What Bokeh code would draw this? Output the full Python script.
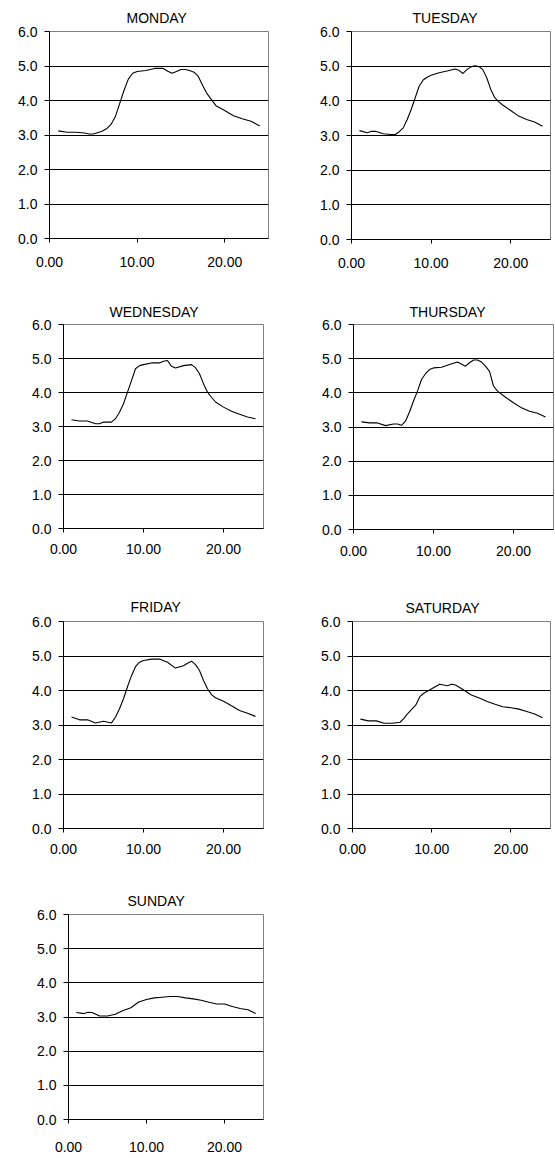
from bokeh.plotting import figure
from bokeh.layouts import column, row
from bokeh.models import FixedTicker, NumeralTickFormatter, Range1d
from bokeh.embed import file_html
from bokeh.resources import INLINE

FONT = "Liberation Sans"

# ---------------- data (hour of day vs value) ----------------
days = ["MONDAY", "TUESDAY", "WEDNESDAY", "THURSDAY", "FRIDAY", "SATURDAY", "SUNDAY"]

mon_x = [1, 2, 3, 4, 4.5, 5, 6, 6.5, 7, 7.5, 8, 8.5, 9, 9.5, 10, 11, 12, 13, 13.5, 14, 14.5, 15, 15.5, 16, 16.5, 17, 17.5, 18, 19, 20, 21, 22, 23, 24]
mon_y = [3.12, 3.08, 3.08, 3.06, 3.03, 3.03, 3.11, 3.18, 3.30, 3.52, 3.90, 4.29, 4.62, 4.79, 4.84, 4.87, 4.93, 4.93, 4.85, 4.79, 4.84, 4.90, 4.90, 4.87, 4.82, 4.69, 4.43, 4.19, 3.85, 3.71, 3.56, 3.47, 3.40, 3.26]

tue_x = [1, 2, 2.5, 3, 4, 5, 5.5, 6, 6.5, 7, 7.5, 8, 8.5, 9, 9.5, 10, 11, 12, 13, 13.5, 14, 14.5, 15, 15.5, 16, 16.5, 17, 17.5, 18, 18.5, 19, 20, 21, 22, 23, 24]
tue_y = [3.14, 3.08, 3.12, 3.12, 3.05, 3.03, 3.03, 3.11, 3.22, 3.46, 3.75, 4.09, 4.42, 4.60, 4.68, 4.74, 4.81, 4.86, 4.92, 4.88, 4.79, 4.90, 4.98, 5.01, 4.99, 4.90, 4.66, 4.33, 4.09, 3.97, 3.88, 3.72, 3.56, 3.46, 3.39, 3.27]

wed_x = [1, 2, 3, 4, 4.5, 5, 6, 6.5, 7, 7.5, 8, 8.5, 9, 9.5, 10, 11, 12, 12.5, 13, 13.5, 14, 15, 16, 16.5, 17, 17.5, 18, 18.5, 19, 20, 21, 22, 23, 24]
wed_y = [3.20, 3.16, 3.16, 3.08, 3.08, 3.13, 3.13, 3.23, 3.42, 3.67, 4.01, 4.35, 4.70, 4.79, 4.82, 4.87, 4.87, 4.92, 4.94, 4.77, 4.72, 4.79, 4.82, 4.73, 4.55, 4.26, 4.01, 3.86, 3.72, 3.57, 3.45, 3.36, 3.28, 3.23]

thu_x = [1, 2, 3, 4, 5, 5.5, 6, 6.5, 7, 7.5, 8, 8.5, 9, 9.5, 10, 11, 12, 13, 14, 14.5, 15, 15.5, 16, 16.5, 17, 17.5, 18, 19, 20, 21, 22, 23, 24]
thu_y = [3.15, 3.12, 3.12, 3.04, 3.09, 3.09, 3.05, 3.17, 3.44, 3.76, 4.05, 4.39, 4.56, 4.68, 4.73, 4.75, 4.83, 4.90, 4.78, 4.88, 4.96, 4.96, 4.90, 4.78, 4.63, 4.20, 4.05, 3.87, 3.71, 3.56, 3.46, 3.40, 3.29]

fri_x = [1, 2, 3, 4, 5, 6, 6.5, 7, 7.5, 8, 8.5, 9, 9.5, 10, 11, 12, 13, 14, 15, 15.5, 16, 16.5, 17, 17.5, 18, 18.5, 19, 20, 21, 22, 23, 24]
fri_y = [3.23, 3.15, 3.15, 3.06, 3.11, 3.06, 3.23, 3.47, 3.76, 4.11, 4.43, 4.69, 4.82, 4.87, 4.91, 4.91, 4.82, 4.65, 4.72, 4.79, 4.85, 4.75, 4.58, 4.29, 4.05, 3.88, 3.79, 3.69, 3.56, 3.42, 3.34, 3.25]

sat_x = [1, 2, 3, 4, 5, 6, 6.5, 7, 8, 8.5, 9, 10, 11, 12, 12.5, 13, 14, 15, 16, 17, 18, 19, 20, 21, 22, 23, 24]
sat_y = [3.17, 3.12, 3.12, 3.05, 3.05, 3.08, 3.19, 3.34, 3.58, 3.82, 3.92, 4.05, 4.18, 4.14, 4.18, 4.16, 4.02, 3.87, 3.78, 3.68, 3.60, 3.53, 3.50, 3.46, 3.39, 3.32, 3.21]

sun_x = [1, 2, 2.5, 3, 3.5, 4, 5, 6, 7, 8, 9, 10, 11, 12, 13, 14, 15, 16, 17, 18, 19, 20, 21, 22, 23, 24]
sun_y = [3.13, 3.10, 3.14, 3.13, 3.08, 3.03, 3.03, 3.08, 3.19, 3.27, 3.44, 3.51, 3.56, 3.58, 3.60, 3.60, 3.56, 3.53, 3.49, 3.43, 3.38, 3.38, 3.31, 3.25, 3.21, 3.10]

x_ticks = [0, 10, 20]
y_ticks = [0, 1, 2, 3, 4, 5, 6]
grid_ticks = [1, 2, 3, 4, 5]

series = [(mon_x, mon_y), (tue_x, tue_y), (wed_x, wed_y), (thu_x, thu_y),
          (fri_x, fri_y), (sat_x, sat_y), (sun_x, sun_y)]

# ---------------- layout geometry (px) ----------------
geom = [
    dict(l=49, fw=219, r=12, t=31, fh=207, b=52, tx=77, ts=12, xs=14),
    dict(l=71, fw=199, r=5, t=30, fh=208, b=52, tx=61, ts=11, xs=14),
    dict(l=63, fw=200, r=17, t=34, fh=204, b=52, tx=46, ts=10, xs=11),
    dict(l=73, fw=200, r=2, t=33, fh=205, b=52, tx=56, ts=10, xs=12),
    dict(l=63, fw=200, r=17, t=41, fh=207, b=42, tx=67, ts=14, xs=11),
    dict(l=72, fw=198, r=5, t=40, fh=207, b=43, tx=53, ts=12, xs=11),
    dict(l=68, fw=195, r=17, t=44, fh=205, b=39, tx=59, ts=12, xs=18),
]


def make_panel(title, xs, ys, g):
    p = figure(frame_width=g["fw"], frame_height=g["fh"],
               min_border_left=g["l"], min_border_right=g["r"],
               min_border_top=g["t"], min_border_bottom=g["b"],
               x_range=Range1d(0, 25), y_range=Range1d(0, 6),
               output_backend="svg", toolbar_location=None, title=title)
    p.line(xs, ys, line_color="black", line_width=1.1, line_join="round")

    p.title.align = "left"
    p.title.text_font = FONT
    p.title.text_font_size = "14px"
    p.title.text_font_style = "normal"
    p.title.text_color = "black"
    p.title.offset = g["tx"]
    p.title.standoff = g["ts"]

    p.background_fill_color = "white"
    p.border_fill_color = "white"
    p.outline_line_color = "#808080"
    p.outline_line_width = 1

    p.xgrid.visible = False
    p.ygrid.ticker = FixedTicker(ticks=grid_ticks)
    p.ygrid.grid_line_color = "black"
    p.ygrid.grid_line_width = 1

    p.xaxis.ticker = FixedTicker(ticks=x_ticks)
    p.yaxis.ticker = FixedTicker(ticks=y_ticks)
    p.xaxis.formatter = NumeralTickFormatter(format="0.00")
    p.yaxis.formatter = NumeralTickFormatter(format="0.0")

    for ax in (p.xaxis[0], p.yaxis[0]):
        ax.axis_line_color = "black"
        ax.axis_line_width = 1
        ax.major_tick_line_color = "black"
        ax.major_tick_in = 0
        ax.minor_tick_line_color = None
        ax.major_label_text_font = FONT
        ax.major_label_text_font_size = "14px"
        ax.major_label_text_color = "black"
    p.xaxis.major_tick_out = 4
    p.yaxis.major_tick_out = 5
    p.xaxis.major_label_standoff = g["xs"]
    p.yaxis.major_label_standoff = 7
    return p


panels = [make_panel(d, s[0], s[1], g) for d, s, g in zip(days, series, geom)]

layout = column(
    row(panels[0], panels[1]),
    row(panels[2], panels[3]),
    row(panels[4], panels[5]),
    row(panels[6]),
)

open("out.html", "w").write(file_html(layout, INLINE))
